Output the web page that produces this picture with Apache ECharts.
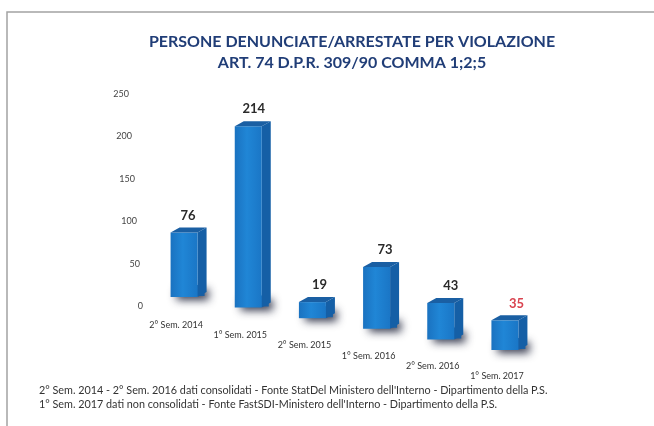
<!DOCTYPE html>
<html>
<head>
<meta charset="utf-8">
<script src="https://cdn.jsdelivr.net/npm/echarts@6/dist/echarts.min.js"></script>
<style>
html,body{margin:0;padding:0;background:#fff;}
#chart{width:654px;height:426px;}
</style>
</head>
<body>
<div id="chart"></div>
<script>
// ---- data ----
const categories = ['2° Sem. 2014', '1° Sem. 2015', '2° Sem. 2015', '1° Sem. 2016', '2° Sem. 2016', '1° Sem. 2017'];
const values = [76, 214, 19, 73, 43, 35];
const yTicks = [0, 50, 100, 150, 200, 250];
const titleLines = ['PERSONE DENUNCIATE/ARRESTATE PER VIOLAZIONE', 'ART. 74 D.P.R. 309/90 COMMA 1;2;5'];
const footnotes = [
  "2° Sem. 2014 - 2° Sem. 2016 dati consolidati - Fonte StatDel Ministero dell'Interno - Dipartimento della P.S.",
  "1° Sem. 2017 dati non consolidati - Fonte FastSDI-Ministero dell'Interno - Dipartimento della P.S."
];

// ---- styling helpers (perspective look) ----
const DROP0 = -9, DROP_STEP = 10.6;   // perspective: each bar base sits lower
const FRONT_W = 27, DX = 9, DY = 5;
const yRich = {};
yTicks.forEach(function (t) { yRich['v' + t] = { fontSize: 9, color: '#444', fontFamily: 'Lato', padding: [0, Math.round(t * 0.056), 0, 0] }; });
const xRich = {};
categories.forEach(function (c, i) { xRich['c' + i] = { fontSize: 9, color: '#333', fontFamily: 'Lato', padding: [Math.round(i * 10.2), 16, 0, 0] }; });

const chart = echarts.init(document.getElementById('chart'));
chart.setOption({
  backgroundColor: '#fff',
  animation: false,
  graphic: [{
    type: 'rect', z: -10,
    shape: { x: 7, y: 12, width: 700, height: 450 },
    style: { fill: '#fff', stroke: '#a3a3a3', lineWidth: 1.5 }
  }],
  title: [{
    text: titleLines.join('\n'),
    left: 347, top: 26, textAlign: 'center',
    textStyle: { fontFamily: 'Lato', fontWeight: 'bold', fontSize: 16, color: '#203d77', lineHeight: 21 }
  }, {
    text: footnotes.join('\n'),
    left: 34, top: 379,
    textStyle: { fontFamily: 'Lato', fontWeight: 'normal', fontSize: 10.8, color: '#333', lineHeight: 13.5 }
  }],
  grid: { left: 152, right: 117, top: 94, bottom: 120 },
  xAxis: {
    type: 'category', data: categories, boundaryGap: true,
    axisLine: { show: false }, axisTick: { show: false }, splitLine: { show: false },
    axisLabel: {
      margin: 15, interval: 0,
      formatter: function (v, i) { return '{c' + i + '|' + v + '}'; },
      rich: xRich
    }
  },
  yAxis: {
    type: 'value', min: 0, max: 250, interval: 50,
    axisLine: { show: false }, axisTick: { show: false }, splitLine: { show: false },
    axisLabel: {
      margin: 9,
      formatter: function (v) { return '{v' + v + '|' + v + '}'; },
      rich: yRich
    }
  },
  series: [{
    type: 'custom',
    data: values.map(function (v, i) { return [i, v]; }),
    renderItem: function (params, api) {
      const i = api.value(0), v = api.value(1);
      const b = api.coord([i, 0]), t = api.coord([i, v]);
      const drop = DROP0 + DROP_STEP * i;
      const x0 = b[0] - FRONT_W / 2, x1 = b[0] + FRONT_W / 2;
      const yb = b[1] + drop, yt = t[1] + drop;
      const last = i === values.length - 1;
      const shH = Math.min(12, yb - yt);
      return {
        type: 'group',
        children: [
          { type: 'rect', z2: 1,
            shape: { x: x0 + 2, y: yb - shH, width: FRONT_W + DX - 4, height: shH - 1 },
            style: { fill: '#1a5fa3', shadowBlur: 8, shadowOffsetX: 4, shadowOffsetY: 4, shadowColor: 'rgba(15,20,45,0.85)' } },
          { type: 'polygon', z2: 2,
            shape: { points: [[x1, yt], [x1 + DX, yt - DY], [x1 + DX, yb - DY], [x1, yb]] },
            style: { fill: '#155fa6' } },
          { type: 'rect', z2: 3,
            shape: { x: x0, y: yt, width: FRONT_W, height: yb - yt },
            style: { fill: new echarts.graphic.LinearGradient(0, 0, 1, 0, [
              { offset: 0, color: '#1a72c0' }, { offset: 0.45, color: '#2086d6' }, { offset: 1, color: '#1a76c6' }]) } },
          { type: 'polygon', z2: 4,
            shape: { points: [[x0, yt], [x0 + DX, yt - DY], [x1 + DX, yt - DY], [x1, yt]] },
            style: { fill: '#1a5fa3' } },
          { type: 'text', z2: 5,
            style: { x: b[0] + 4 + 1.5 * i, y: yt - DY - 12, text: String(v), align: 'center', verticalAlign: 'middle',
              fontFamily: 'Lato', fontWeight: 'bold', fontSize: 13, fill: last ? '#d9434f' : '#2a2a2a' } }
        ]
      };
    }
  }]
});
</script>
</body>
</html>
